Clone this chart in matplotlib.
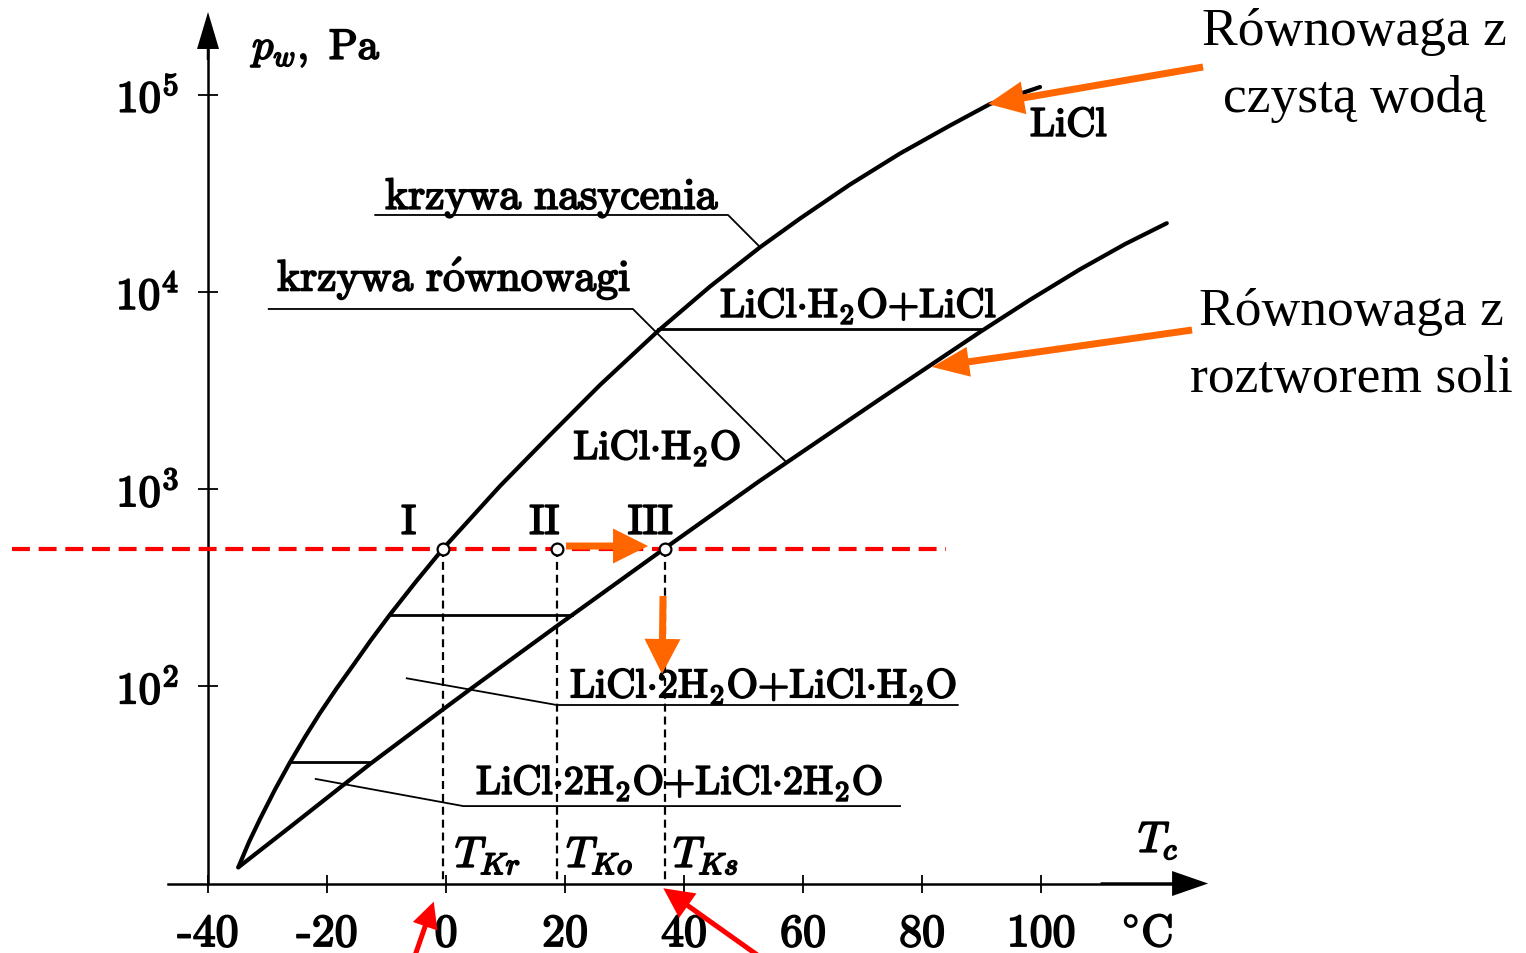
import numpy as np
import matplotlib
matplotlib.use('Agg')
import matplotlib.pyplot as plt
from matplotlib.patches import FancyArrowPatch
from matplotlib.ticker import NullLocator
import matplotlib.patheffects as pe

plt.rcParams['mathtext.fontset'] = 'cm'

# ---------------- data ----------------
# saturation curve (pure water)  "krzywa nasycenia"
sat_T = [-34.91, -33.11, -31.26, -28.74, -26.22, -23.70, -21.18, -18.40,
         -15.58, -12.61, -9.41, -5.04, -0.55, 9.08, 17.48,
         25.88, 35.68, 44.37, 52.77, 59.50, 67.90, 76.30, 84.71, 91.43, 99.83]
sat_p = [12.08, 16.24, 21.24, 29.97, 41.18, 55.34, 73.2, 97.46,
         128.2, 171.7, 231.3, 340.0, 497, 1037, 1881,
         3373, 6357, 10650, 16840, 23560, 35040, 50330, 69810, 89740, 109400]
# equilibrium curve (salt solution)  "krzywa równowagi"
eq_T = [-34.91, -26.22, -17.26, -12.77, -0.72, 4.03, 18.61, 36.81, 52.77,
        72.94, 89.75, 98.15, 106.55, 114.12, 121.13]
eq_p = [12.08, 19.34, 31.59, 40.36, 75.55, 96.45, 202, 502, 1104,
        2863, 6262, 9120, 13020, 17480, 22300]

# horizontal phase boundaries
bound_p = [230.7, 41.3, 6485]
bound_T0 = [-9.4, -25.9, 35.7]
bound_T1 = [21.1, -12.8, 90.2]

# points I, II, III
pt_T = [-0.55, 18.6, 36.8]
pt_p = 497
pt_labels = ['I', 'II', 'III']
pt_label_T = [-6.2, 16.6, 34.4]

# axis ticks
x_ticks = [-40, -20, 0, 20, 40, 60, 80, 100]
x_tick_labels = ['-40', '-20', '0', '20', '40', '60', '80', '100']
y_ticks = [1e2, 1e3, 1e4, 1e5]
y_tick_labels = [r'$10^2$', r'$10^3$', r'$10^4$', r'$10^5$']

# T labels under points
tk_labels = [r'$T_{Kr}$', r'$T_{Ko}$', r'$T_{Ks}$']
tk_T = [1.5, 20.2, 38.2]

# ---------------- figure ----------------
fig = plt.figure(figsize=(15.26, 9.54), dpi=100)
ax = fig.add_axes([0, 0, 1, 1])
ax.set_yscale('log')
ax.set_xlim(-74.96, 181.5)
ax.set_ylim(4.443, 305700)
ax.yaxis.set_minor_locator(NullLocator())
ax.xaxis.set_minor_locator(NullLocator())
for s in ['top', 'right']:
    ax.spines[s].set_visible(False)
ax.spines['left'].set_position(('data', -40))
ax.spines['bottom'].set_position(('data', 10))
ax.spines['left'].set_bounds(10, 200000)
ax.spines['bottom'].set_bounds(-46.7, 124)
for s in ['left', 'bottom']:
    ax.spines[s].set_linewidth(1.8)
ax.set_xticks(x_ticks)
ax.set_yticks(y_ticks)
ax.set_xticklabels([])
ax.set_yticklabels([])
ax.tick_params(axis='x', direction='inout', length=13, width=1.3)
ax.tick_params(axis='y', direction='inout', length=14, width=1.3)

thick = [pe.withStroke(linewidth=1.3, foreground='black')]
FS = 29      # chemical formulas, I/II/III
FL = 31.5    # "krzywa ..." labels
FT = 32      # tick labels


def arrow(tail, tip, color, hl, hw, tw, z=6):
    style = 'simple,head_length=%.2f,head_width=%.2f,tail_width=%.2f' % (
        hl * 0.72, hw * 0.72, tw * 0.72)
    a = FancyArrowPatch(tail, tip, arrowstyle=style, mutation_scale=1,
                        color=color, shrinkA=0, shrinkB=0, lw=0, zorder=z)
    ax.add_patch(a)


# axis arrows
arrow((-40, 150000), (-40, 262700), 'black', 37, 22, 2.5)
arrow((110, 10), (128.07, 10), 'black', 36, 25, 2.5)

# curves
ax.plot(sat_T, sat_p, color='black', lw=3.0, solid_capstyle='round',
        solid_joinstyle='round', zorder=3)
ax.plot(eq_T, eq_p, color='black', lw=3.0, solid_capstyle='round',
        solid_joinstyle='round', zorder=3)
for p, t0, t1 in zip(bound_p, bound_T0, bound_T1):
    ax.plot([t0, t1], [p, p], color='black', lw=2.0, zorder=3)

# leader lines
ax.plot([-11.9, 47.4, 52.8], [24550, 24550, 16840], color='black', lw=1.3)
ax.plot([-29.8, 31.4, 57.0], [8192, 8192, 1388], color='black', lw=1.3)
ax.plot([-6.6, 18.6, 86.0], [109.8, 80.4, 80.4], color='black', lw=1.3)
ax.plot([-21.9, 2.9, 76.3], [33.9, 24.7, 24.7], color='black', lw=1.3)

# dashed verticals
for t in pt_T:
    ax.plot([t, t], [pt_p, 10], color='black', lw=1.6,
            linestyle=(0, (3.6, 2.2)), zorder=2)

# red dashed line
ax.plot([-72.9, 84.0], [pt_p, pt_p], color='#FF0000', lw=3.0,
        linestyle=(0, (4.3, 2.1)), zorder=4)

# circles
ax.plot(pt_T, [pt_p] * 3, 'o', ms=8.5, mfc='white', mec='black', mew=1.6,
        zorder=7)

# ---------------- texts ----------------
for t, lab in zip(pt_label_T, pt_labels):
    ax.text(t, 592, r'$\mathrm{%s}$' % lab, fontsize=30, ha='center',
            va='baseline', path_effects=thick)

for t, lab in zip(x_ticks, x_tick_labels):
    ax.text(t, 4.82, lab, fontsize=FT + 1, family='cmr10', ha='center',
            va='baseline', path_effects=thick)
ax.text(117.8, 4.82, r'$^{\circ}\mathrm{C}$', fontsize=FT, ha='center',
        va='baseline', path_effects=thick)

for p, lab in zip(y_ticks, y_tick_labels):
    ax.text(-44.9, p * 10 ** -0.0862, lab, fontsize=FT, ha='right',
            va='baseline', path_effects=thick)

ax.text(-32.6, 151800, r'$p_w,\ \mathrm{Pa}$', fontsize=30.5, ha='left',
        va='baseline', path_effects=thick)
ax.text(116.3, 14.45, r'$T_c$', fontsize=31, ha='left', va='baseline',
        path_effects=thick)
for t, lab in zip(tk_T, tk_labels):
    ax.text(t, 12.12, lab, fontsize=31, ha='left', va='baseline',
            path_effects=thick)

ax.text(98.15, 61760, r'$\mathrm{LiCl}$', fontsize=FS, ha='left',
        va='baseline', path_effects=thick)
ax.text(-10.25, 26330, r'$\mathrm{krzywa\ nasycenia}$', fontsize=FL,
        ha='left', va='baseline', path_effects=thick)
ax.text(-28.4, 10140, r'$\mathrm{krzywa\ r\acute{o}wnowagi}$', fontsize=FL,
        ha='left', va='baseline', path_effects=thick)
ax.text(46.05, 7460, r'$\mathrm{LiCl{\cdot}H_2O{+}LiCl}$', fontsize=FS,
        ha='left', va='baseline', path_effects=thick)
ax.text(21.4, 1421, r'$\mathrm{LiCl{\cdot}H_2O}$', fontsize=FS,
        ha='left', va='baseline', path_effects=thick)
ax.text(20.84, 87.9, r'$\mathrm{LiCl{\cdot}2H_2O{+}LiCl{\cdot}H_2O}$',
        fontsize=FS, ha='left', va='baseline', path_effects=thick)
ax.text(5.04, 28.44, r'$\mathrm{LiCl{\cdot}2H_2O{+}LiCl{\cdot}2H_2O}$',
        fontsize=FS, ha='left', va='baseline', path_effects=thick)

# right-side annotations
RF = dict(fontsize=38.5, family='Liberation Serif', ha='center',
          va='baseline')
ax.text(152.6, 180800, 'Równowaga z', **RF)
ax.text(152.6, 82650, 'czystą wodą', **RF)
ax.text(152.2, 6875, 'Równowaga z', **RF)
ax.text(152.2, 3144, 'roztworem soli', **RF)

# orange arrows
OR = '#FF6600'
arrow((127.23, 138200), (91.09, 89740), OR, 36, 33, 7)
arrow((125.38, 6410), (81.68, 4161), OR, 37, 30, 7)
arrow((20.17, 514.6), (33.95, 514.6), OR, 35, 35, 7)
arrow((36.47, 287.1), (36.3, 115.5), OR, 35, 36, 7)

# red arrows
arrow((-5.71, 3.907), (-2.07, 8.09), '#FF0000', 26, 26, 5)
arrow((54.45, 3.907), (36.52, 9.46), '#FF0000', 30, 30, 5)

fig.savefig('out.png', dpi=100)
